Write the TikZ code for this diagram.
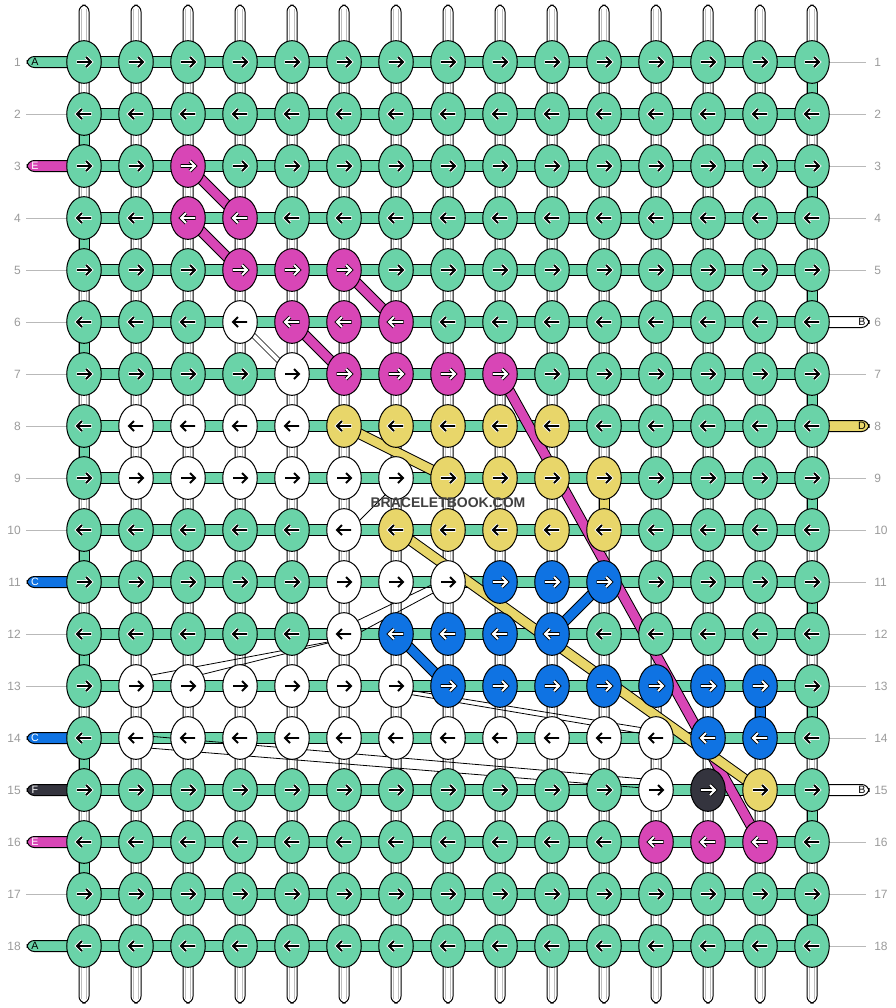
\documentclass[tikz,border=0pt]{standalone}
\usepackage{fontspec}
\setmainfont{Liberation Sans}
\usetikzlibrary{calc,shapes.geometric}
\definecolor{kG}{RGB}{106,211,168}
\definecolor{kP}{RGB}{216,70,182}
\definecolor{kY}{RGB}{232,214,106}
\definecolor{kB}{RGB}{15,115,227}
\definecolor{kK}{RGB}{52,52,62}
\definecolor{kW}{RGB}{255,255,255}
\definecolor{lblgrey}{RGB}{155,155,155}
\definecolor{strgrey}{RGB}{190,190,190}
\def\darkP{}\def\darkB{}\def\darkK{}
\tikzset{
  knot/.style={ellipse, draw=black, line width=0.75pt, minimum width=25.9pt, minimum height=32pt, inner sep=0pt},
  band/.style={draw=black, line width=0.75pt, double=#1, double distance=6.6pt},
  wband/.style={draw=black, line width=0.6pt, double=white, double distance=3pt},
  thinln/.style={draw=black, line width=0.6pt},
  hbar/.style={draw=black, line width=0.75pt, fill=kG},
  lbl/.style={text=lblgrey, font=\fontsize{9}{10}\selectfont, inner sep=0pt},
  plbl/.style={font=\fontsize{8}{9}\selectfont, inner sep=0pt},
  gline/.style={draw=lblgrey!70, line width=0.6pt}
}
\begin{document}
\begin{tikzpicture}[x=0.75pt,y=-0.75pt]
\useasboundingbox (0,0) rectangle (896,1008);
\fill[white] (0,0) rectangle (896,1008);
% colour map
\foreach \r/\c/\k in {3/3/P,4/3/P,4/4/P,5/4/P,5/5/P,5/6/P,
 6/4/W,6/5/P,6/6/P,6/7/P,7/5/W,7/6/P,7/7/P,7/8/P,7/9/P,
 8/2/W,8/3/W,8/4/W,8/5/W,8/6/Y,8/7/Y,8/8/Y,8/9/Y,8/10/Y,
 9/2/W,9/3/W,9/4/W,9/5/W,9/6/W,9/7/W,9/8/Y,9/9/Y,9/10/Y,9/11/Y,
 10/6/W,10/7/Y,10/8/Y,10/9/Y,10/10/Y,10/11/Y,
 11/6/W,11/7/W,11/8/W,11/9/B,11/10/B,11/11/B,
 12/6/W,12/7/B,12/8/B,12/9/B,12/10/B,
 13/2/W,13/3/W,13/4/W,13/5/W,13/6/W,13/7/W,13/8/B,13/9/B,13/10/B,13/11/B,13/12/B,13/13/B,13/14/B,
 14/2/W,14/3/W,14/4/W,14/5/W,14/6/W,14/7/W,14/8/W,14/9/W,14/10/W,14/11/W,14/12/W,14/13/B,14/14/B,
 15/12/W,15/13/K,15/14/Y,16/12/P,16/13/P,16/14/P}
 {\expandafter\xdef\csname kc-\r-\c\endcsname{\k}}
% vertical strands
\foreach \c in {1,...,15}{
  \pgfmathsetmacro\xx{32+52*\c}
  \draw[line width=0.75pt, fill=white, rounded corners=5] (\xx-5,5) rectangle (\xx+5,1003);
  \draw[strgrey, line width=0.6pt] (\xx-2.2,9) -- (\xx-2.2,999) (\xx+2.2,9) -- (\xx+2.2,999);
}
% filled vertical gaps
\foreach \c/\r/\k in {1/2/G,1/4/G,1/6/G,1/8/G,1/10/G,1/12/G,1/14/G,1/16/G,
  15/1/G,15/3/G,15/5/G,15/7/G,15/9/G,15/11/G,15/13/G,15/15/G,15/17/G,
  11/9/Y,14/13/B}{
  \pgfmathsetmacro\xx{32+52*\c}
  \pgfmathsetmacro\yy{10+52*\r}
  \draw[line width=0.75pt, fill=k\k] (\xx-5,\yy) rectangle (\xx+5,\yy+52);
}
% row ends (pills) and grey lines
\foreach \r/\k/\t/\tc in {1/G/A/black,3/P/E/white,11/B/C/white,14/B/C/white,15/K/F/white,16/P/E/white,18/G/A/black}{
  \pgfmathsetmacro\yy{10+52*\r}
  \draw[line width=0.75pt, fill=k\k, rounded corners=5.5] (27,\yy-5.5) rectangle (84,\yy+5.5);
  \node[plbl, text=\tc] (pl\r) at (35,\yy) {\t};
}
\foreach \r/\k/\t in {6/W/B,8/Y/D,15/W/B}{
  \pgfmathsetmacro\yy{10+52*\r}
  \draw[line width=0.75pt, fill=k\k, rounded corners=5.5] (812,\yy-5.5) rectangle (869,\yy+5.5);
  \node[plbl] (pr\r) at (862,\yy) {\t};
}
\foreach \r in {2,4,5,6,7,8,9,10,12,13,17}{
  \pgfmathsetmacro\yy{10+52*\r}
  \draw[gline] (26,\yy) -- (67,\yy);
}
\foreach \r in {1,2,3,4,5,7,9,10,11,12,13,14,16,17,18}{
  \pgfmathsetmacro\yy{10+52*\r}
  \draw[gline] (829,\yy) -- (866,\yy);
}
\foreach \r in {1,...,18}{
  \pgfmathsetmacro\yy{10+52*\r}
  \node[lbl, anchor=east] (ll\r) at (21,\yy) {\r};
  \node[lbl, anchor=west] (rl\r) at (874,\yy) {\r};
  \draw[hbar] (84,\yy-5.6) rectangle (812,\yy+5.6);
}
% knots (created first as coordinates for connectors)
\foreach \r in {1,...,18}{
 \foreach \c in {1,...,15}{
  \pgfmathsetmacro\xx{32+52*\c}
  \pgfmathsetmacro\yy{10+52*\r}
  \coordinate (n\r-\c) at (\xx,\yy);
 }}
% thread paths
\draw[band=kP] (n3-3) -- (n4-4);
\draw[band=kP] (n4-3) -- (n5-4);
\draw[band=kP] (n5-6) -- (n6-7);
\draw[band=kP] (n6-5) -- (n7-6);
\draw[band=kP] (n7-9) -- (n16-14);
\draw[band=kY] (n8-6) -- (n9-8);
\draw[band=kY] (n10-7) -- (n15-14);
\draw[band=kB] (n11-11) -- (n12-10);
\draw[band=kB] (n12-7) -- (n13-8);
\draw[wband] (n6-4) -- (n7-5);
\draw[thinln] ($(n10-6)+(0,6)$) -- ($(n9-7)+(0,6)$);
\draw[thinln] ($(n12-6)+(0,-7)$) -- ($(n11-8)+(0,-5)$);
\draw[thinln] ($(n12-6)+(0,7)$) -- ($(n11-8)+(0,3)$);
\draw[thinln] ($(n13-2)+(0,-8)$) -- ($(n12-6)+(0,5)$);
\draw[thinln] ($(n13-3)+(0,-8)$) -- ($(n12-6)+(0,5)$);
\draw[thinln] ($(n13-7)+(0,2)$) -- ($(n14-12)+(0,-8)$);
\draw[thinln] ($(n13-7)+(0,6)$) -- ($(n14-12)+(0,-2)$);
\draw[thinln] ($(n14-2)+(0,-3)$) -- ($(n15-12)+(0,-10)$);
\draw[thinln] ($(n14-2)+(0,9)$) -- ($(n15-12)+(0,-1)$);
% knots
\foreach \r in {1,...,18}{
 \foreach \c in {1,...,15}{
  \pgfmathsetmacro\xx{32+52*\c}
  \pgfmathsetmacro\yy{10+52*\r}
  \pgfmathsetmacro\dd{1-2*mod(\r+1,2)}
  \ifcsname kc-\r-\c\endcsname \edef\kk{\csname kc-\r-\c\endcsname}\else\def\kk{G}\fi
  \ifcsname dark\kk\endcsname \def\ao{black}\def\ai{white}\else\def\ao{white}\def\ai{black}\fi
  \node[knot, fill=k\kk] (k\r-\c) at (n\r-\c) {};
  \begin{scope}[shift={(\xx,\yy)}, xscale=\dd]
   \draw[\ao, line width=2.7pt, line cap=butt, line join=miter] (-7.5,0) -- (6.5,0) (2,-5) -- (7,0) -- (2,5);
   \draw[\ai, line width=1.4pt, line cap=butt, line join=miter] (-7,0) -- (6.5,0) (2,-5) -- (7,0) -- (2,5);
  \end{scope}
 }}
\node[font=\bfseries\fontsize{10.5}{12}\selectfont, text=black!75] (wm) at (448,503) {BRACELETBOOK.COM};
\end{tikzpicture}
\end{document}
